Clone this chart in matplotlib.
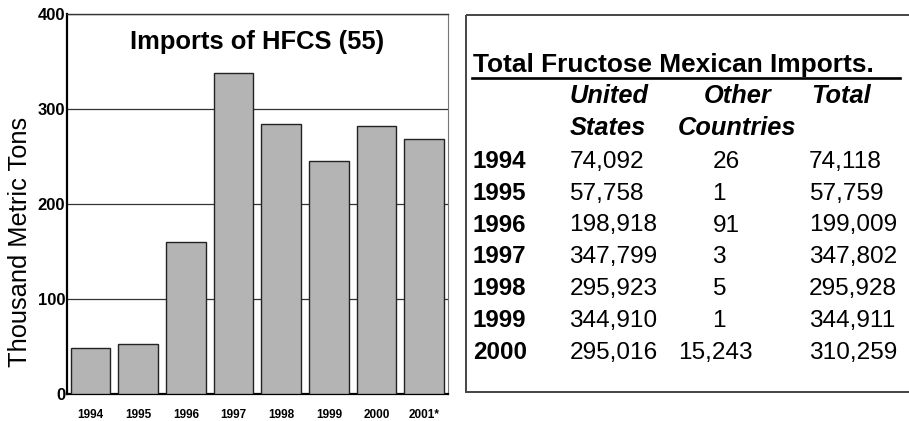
import matplotlib
matplotlib.use("Agg")
import matplotlib.pyplot as plt
from matplotlib.patches import Rectangle

plt.rcParams['font.family'] = ['Liberation Sans', 'DejaVu Sans']

# ---- data ----
bar_years = ["1994", "1995", "1996", "1997", "1998", "1999", "2000", "2001*"]
bar_values = [48.4, 53.3, 160, 338, 284.8, 245.9, 282.8, 269]
y_ticks = [0, 100, 200, 300, 400]

table_title = "Total Fructose Mexican Imports."
col_headers = [("United", "States"), ("Other", "Countries"), ("Total", "")]
row_years = ["1994", "1995", "1996", "1997", "1998", "1999", "2000"]
us_values = ["74,092", "57,758", "198,918", "347,799", "295,923", "344,910", "295,016"]
other_values = ["26", "1", "91", "3", "5", "1", "15,243"]
total_values = ["74,118", "57,759", "199,009", "347,802", "295,928", "344,911", "310,259"]

W, H = 909, 421
fig = plt.figure(figsize=(W / 100, H / 100), dpi=100)

# ---- bar chart ----
ax = fig.add_axes([66.7 / W, 1 - 394.3 / H, (448 - 66.7) / W, (394.3 - 14.3) / H])
x = list(range(len(bar_years)))
ax.bar(x, bar_values, width=0.83, color="#b4b4b4", edgecolor="#222222", linewidth=1.0, zorder=3)
ax.set_xlim(-0.5, len(bar_years) - 0.5)
ax.set_ylim(0, 400)
ax.set_yticks(y_ticks)
ax.set_yticklabels([str(v) for v in y_ticks], fontsize=12, fontweight="bold")
ax.set_xticks(x)
ax.set_xticklabels(bar_years, fontsize=8.5, fontweight="bold")
ax.tick_params(axis="y", length=0, pad=1)
ax.tick_params(axis="x", length=0, pad=10.5)
ax.yaxis.grid(True, color="#333333", linewidth=0.9, zorder=0)
ax.set_axisbelow(True)
for s in ["left", "bottom"]:
    ax.spines[s].set_linewidth(1.6)
    ax.spines[s].set_color("black")
ax.spines["top"].set_linewidth(1.0)
ax.spines["top"].set_color("#333333")
ax.spines["right"].set_linewidth(0.8)
ax.spines["right"].set_color("#777777")
ax.set_ylabel("Thousand Metric Tons", fontsize=18.3)
ax.yaxis.set_label_coords((32 - 66.7) / 381.3, (394.3 - 241.5) / 380)
ax.text(0.5, 1 - (42.5 - 14.3) / 380, "Imports of HFCS (55)", transform=ax.transAxes,
        ha="center", va="center", fontsize=18.4, fontweight="bold")

# ---- table panel ----
tx = fig.add_axes([0, 0, 1, 1])
tx.set_xlim(0, W)
tx.set_ylim(H, 0)
tx.axis("off")
tx.add_patch(Rectangle((466, 15), 460, 377, fill=False, edgecolor="#444444", linewidth=1.4))

tx.text(473, 71.7, table_title, fontsize=18.9, fontweight="bold", va="baseline", ha="left")
tx.plot([472, 900], [78.3, 78.3], color="black", linewidth=1.9)

header_x = [570, 703.3, 811.7]
header_x2 = [570, 678, 811.7]
for (h1, h2), hx, hx2 in zip(col_headers, header_x, header_x2):
    tx.text(hx, 103.3, h1, fontsize=18.3, fontweight="bold", style="italic", va="baseline", ha="left")
    if h2:
        tx.text(hx2, 135, h2, fontsize=18.3, fontweight="bold", style="italic", va="baseline", ha="left")

base0 = 167.7
step = 31.9
for i, (yr, us, ot, tot) in enumerate(zip(row_years, us_values, other_values, total_values)):
    yb = base0 + i * step
    tx.text(473, yb, yr, fontsize=17.4, fontweight="bold", va="baseline", ha="left")
    tx.text(569.3, yb, us, fontsize=17.6, va="baseline", ha="left")
    ox = 712.5 if len(ot) <= 2 else 678
    tx.text(ox, yb, ot, fontsize=17.6, va="baseline", ha="left")
    tx.text(809, yb, tot, fontsize=17.6, va="baseline", ha="left")

fig.savefig("out.png", dpi=100)
